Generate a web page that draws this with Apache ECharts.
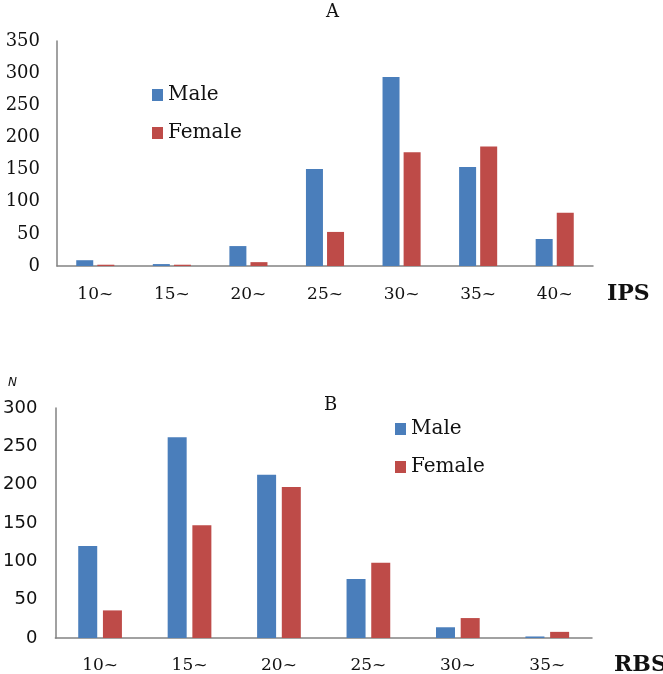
<!DOCTYPE html>
<html>
<head>
<meta charset="utf-8">
<script src="https://cdn.jsdelivr.net/npm/echarts@6/dist/echarts.min.js"></script>
<style>
	html, body { margin: 0; padding: 0; background: #fff; }
	#main { width: 663px; height: 674px; }
</style>
</head>
<body>
<div id="main"></div>
<script>
// 数据 A (IPS)
var ipsCategories = ['10~', '15~', '20~', '25~', '30~', '35~', '40~'];
var ipsMale = [9, 3, 31, 151, 294, 154, 42];
var ipsFemale = [2, 2, 6, 53, 177, 186, 83];
var ipsTicks = [0, 350, 50];

// 数据 B (RBS)
var rbsCategories = ['10~', '15~', '20~', '25~', '30~', '35~'];
var rbsMale = [120, 262, 213, 77, 14, 2];
var rbsFemale = [36, 147, 197, 98, 26, 8];
var rbsTicks = [0, 300, 50];

var blue = '#4a7ebb';
var red = '#be4b48';
var serif = '"DejaVu Serif", serif';
var sans = '"DejaVu Sans", sans-serif';
var axisColor = '#828282';

var myChart = echarts.init(document.getElementById('main'));

// 图例 (两个图各一个)
function makeLegend(left, top) {
	return {
		left: left,
		top: top,
		orient: 'vertical',
		icon: 'rect',
		itemWidth: 11,
		itemHeight: 12,
		itemGap: 18,
		textStyle: { fontFamily: serif, fontSize: 20, color: '#111' },
		data: ['Male', 'Female']
	};
}

var option = {
	animation: false,
	textStyle: { fontFamily: serif },
	title: [
		{ text: 'A', left: 321, top: -2, textStyle: { fontFamily: serif, fontSize: 18, fontWeight: 'normal', color: '#111' } },
		{ text: 'B', left: 319, top: 391, textStyle: { fontFamily: serif, fontSize: 18, fontWeight: 'normal', color: '#111' } },
		{ text: 'N', left: 3, top: 372, textStyle: { fontFamily: sans, fontSize: 12, fontStyle: 'italic', fontWeight: 'normal', color: '#111' } },
		{ text: 'IPS', left: 602, top: 278, textStyle: { fontFamily: serif, fontSize: 22, fontWeight: 'bold', color: '#111' } },
		{ text: 'RBS', left: 609, top: 649, textStyle: { fontFamily: serif, fontSize: 22, fontWeight: 'bold', color: '#111' } }
	],
	legend: [makeLegend(147, 80), makeLegend(390, 414)],
	grid: [
		{ left: 57, top: 41, width: 536, height: 225 },
		{ left: 54, top: 408, width: 538, height: 230 }
	],
	xAxis: [{
		type: 'category',
		gridIndex: 0,
		data: ipsCategories,
		axisLine: { lineStyle: { color: axisColor, width: 1.5 } },
		axisTick: { show: false },
		axisLabel: { fontFamily: serif, fontSize: 17, color: '#111', margin: 20 }
	}, {
		type: 'category',
		gridIndex: 1,
		data: rbsCategories,
		axisLine: { lineStyle: { color: axisColor, width: 1.5 } },
		axisTick: { show: false },
		axisLabel: { fontFamily: serif, fontSize: 17, color: '#111', margin: 19 }
	}],
	yAxis: [{
		type: 'value',
		gridIndex: 0,
		min: ipsTicks[0],
		max: ipsTicks[1],
		interval: ipsTicks[2],
		axisLine: { show: true, lineStyle: { color: axisColor, width: 1.5 } },
		axisTick: { show: false },
		splitLine: { show: false },
		axisLabel: { fontFamily: serif, fontSize: 18, color: '#111', margin: 17 }
	}, {
		type: 'value',
		gridIndex: 1,
		min: rbsTicks[0],
		max: rbsTicks[1],
		interval: rbsTicks[2],
		axisLine: { show: true, lineStyle: { color: axisColor, width: 1.5 } },
		axisTick: { show: false },
		splitLine: { show: false },
		axisLabel: { fontFamily: sans, fontSize: 18, color: '#111', margin: 18 }
	}],
	series: [{
		name: 'Male',
		type: 'bar',
		xAxisIndex: 0,
		yAxisIndex: 0,
		barWidth: 17,
		barGap: '24%',
		data: ipsMale,
		itemStyle: { color: blue }
	}, {
		name: 'Female',
		type: 'bar',
		xAxisIndex: 0,
		yAxisIndex: 0,
		barWidth: 17,
		barGap: '24%',
		data: ipsFemale,
		itemStyle: { color: red }
	}, {
		name: 'Male',
		type: 'bar',
		xAxisIndex: 1,
		yAxisIndex: 1,
		barWidth: 19,
		barGap: '30%',
		data: rbsMale,
		itemStyle: { color: blue }
	}, {
		name: 'Female',
		type: 'bar',
		xAxisIndex: 1,
		yAxisIndex: 1,
		barWidth: 19,
		barGap: '30%',
		data: rbsFemale,
		itemStyle: { color: red }
	}]
};

myChart.setOption(option);
</script>
</body>
</html>
